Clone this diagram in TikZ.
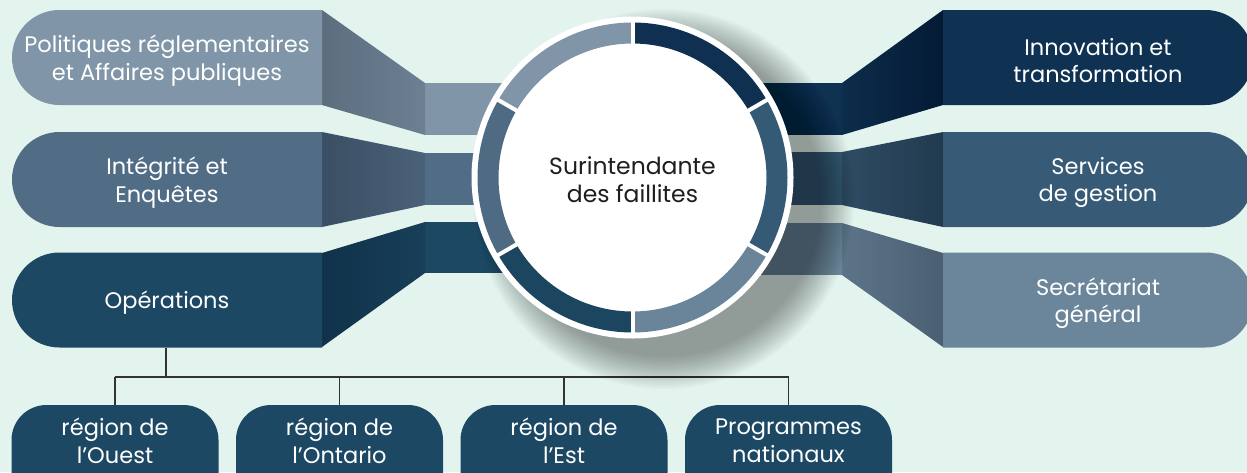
\documentclass[tikz,border=0pt]{standalone}
\usepackage{fontspec}
\setmainfont{Poppins}
\usetikzlibrary{shapes.misc}
\definecolor{bg}{HTML}{E3F4EF}
\definecolor{cA}{HTML}{8096A8}
\definecolor{cAd}{HTML}{5C6E7E}
\definecolor{cAl}{HTML}{6C8093}
\definecolor{cB}{HTML}{516D86}
\definecolor{cBd}{HTML}{3A4F64}
\definecolor{cBl}{HTML}{4A6177}
\definecolor{cC}{HTML}{1C4864}
\definecolor{cCd}{HTML}{10324A}
\definecolor{cCl}{HTML}{183F59}
\definecolor{rA}{HTML}{0F3152}
\definecolor{rAd}{HTML}{041A34}
\definecolor{rAl}{HTML}{0D2D4C}
\definecolor{rB}{HTML}{375B77}
\definecolor{rBd}{HTML}{223A4F}
\definecolor{rBl}{HTML}{2E4C64}
\definecolor{rC}{HTML}{6B869A}
\definecolor{rCd}{HTML}{4A5F72}
\definecolor{rCl}{HTML}{5D7488}
\definecolor{segA}{HTML}{0F3050}
\definecolor{segB}{HTML}{355A75}
\definecolor{segC}{HTML}{6A8599}
\definecolor{segD}{HTML}{1C4560}
\definecolor{segE}{HTML}{4F6A83}
\definecolor{segF}{HTML}{8096A8}
\definecolor{linec}{HTML}{333333}
\definecolor{ctext}{HTML}{1E1E1E}
\begin{document}
\begin{tikzpicture}[x=1pt,y=-1pt,
  boxtxt/.style={text=white,font=\fontsize{22.5}{27.5}\selectfont,align=center,inner sep=0pt},
  lbox/.style={rounded rectangle,rounded rectangle east arc=none,minimum width=310pt,minimum height=95pt,inner sep=0pt},
  rbox/.style={rounded rectangle,rounded rectangle west arc=none,minimum width=310pt,minimum height=95pt,inner sep=0pt},
  btxt/.style={label={[boxtxt,yshift=-3pt]center:{#1}}},
  pill/.style={rectangle,rounded corners=35pt,minimum width=207pt,minimum height=105pt,inner sep=0pt,fill=cC},
  conn/.style={draw=linec,line width=1.3pt},
]
\useasboundingbox (0,0) rectangle (1247,472);
\clip (0,0) rectangle (1247,472);
\fill[bg] (0,0) rectangle (1247,472);

% bands under circle
\fill[cA] (425,83) rectangle (633,135);
\fill[cB] (425,153) rectangle (633,205);
\fill[cC] (425,222) rectangle (633,273);
\fill[rA] (633,83) rectangle (842,135);
\fill[rB] (633,152) rectangle (842,205);
\fill[rC] (633,223) rectangle (842,275);

% folds
\shade[left color=cAd,right color=cAl] (322,10) -- (425,83) -- (425,135) -- (322,105) -- cycle;
\shade[left color=cBd,right color=cBl] (322,132) -- (425,153) -- (425,205) -- (322,227) -- cycle;
\shade[left color=cCd,right color=cCl] (322,253) -- (425,222) -- (425,273) -- (322,347) -- cycle;
\shade[left color=rAl,right color=rAd] (943,10) -- (842,83) -- (842,135) -- (943,105) -- cycle;
\shade[left color=rBl,right color=rBd] (943,132) -- (842,152) -- (842,205) -- (943,227) -- cycle;
\shade[left color=rCl,right color=rCd] (943,253) -- (842,223) -- (842,275) -- (943,347) -- cycle;

% side boxes
\node[lbox,fill=cA,btxt={Politiques réglementaires\\et Affaires publiques}] (pol) at (167,57.5) {};
\node[lbox,fill=cB,btxt={Intégrité et\\Enquêtes}] (int) at (167,179.5) {};
\node[lbox,fill=cC,btxt={Opérations}] (ops) at (167,300) {};
\node[rbox,fill=rA,btxt={Innovation et\\transformation}] (inn) at (1098,57.5) {};
\node[rbox,fill=rB,btxt={Services\\de gestion}] (ser) at (1098,179.5) {};
\node[rbox,fill=rC,btxt={Secrétariat\\général}] (sec) at (1098,300) {};

% bottom pills
\node[pill] (p1) at (115,457.5) {};
\node[pill] (p2) at (339.5,457.5) {};
\node[pill] (p3) at (564,457.5) {};
\node[pill] (p4) at (788.5,457.5) {};
\node[boxtxt] (t1) at (115,441) {région de\\l’Ouest};
\node[boxtxt] (t2) at (339.5,441) {région de\\l’Ontario};
\node[boxtxt] (t3) at (564,441) {région de\\l’Est};
\node[boxtxt] (t4) at (788.5,441) {Programmes\\nationaux};

% connectors
\coordinate (bus) at (166,377);
\draw[conn] (ops.south -| bus) -- (bus);
\draw[conn] (p1.north |- bus) -- (p4.north |- bus);
\draw[conn] (p1.north |- bus) -- (p1.north);
\draw[conn] (p2.north |- bus) -- (p2.north);
\draw[conn] (p3.north |- bus) -- (p3.north);
\draw[conn] (p4.north |- bus) -- (p4.north);

% shadow
\foreach \r in {158,160,...,190} {
  \fill[black,fill opacity=0.024] (664,199) circle[radius=\r];
}

% circle
\fill[white] (632.5,177.5) circle[radius=161];
\begin{scope}[shift={(632.5,177.5)}]
  \foreach \a/\b/\c in {-90/-30/segA,-30/30/segB,30/90/segC,90/150/segD,150/210/segE,210/270/segF} {
    \fill[\c] (\a:155) arc[start angle=\a,end angle=\b,radius=155] -- (\b:134) arc[start angle=\b,end angle=\a,radius=134] -- cycle;
  }
  \foreach \a in {-90,-30,30,90,150,210} {
    \draw[white,line width=4pt] (\a:130) -- (\a:158);
  }
\end{scope}
\node[text=ctext,font=\fontsize{23.5}{28}\selectfont,align=center,inner sep=0pt] (sup) at (632.5,180) {Surintendante\\des faillites};
\end{tikzpicture}
\end{document}
